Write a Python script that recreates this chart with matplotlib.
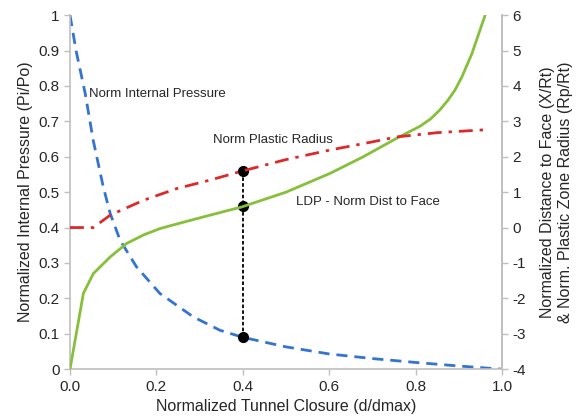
import matplotlib.pyplot as plt

plt.rcParams['font.family'] = ['Liberation Sans', 'DejaVu Sans']
plt.rcParams['axes.unicode_minus'] = False

# Norm internal pressure (left axis)
closure_p = [0.0, 0.014, 0.035, 0.054, 0.077, 0.093, 0.116, 0.154, 0.208, 0.285, 0.347,
             0.40, 0.50, 0.60, 0.70, 0.80, 0.90, 1.00]
pressure = [1.0, 0.9, 0.78, 0.645, 0.515, 0.44, 0.364, 0.289, 0.214, 0.148, 0.11,
            0.09, 0.063, 0.043, 0.03, 0.019, 0.009, 0.0]

# LDP - norm distance to face (right axis)
closure_ldp = [0.0, 0.031, 0.054, 0.093, 0.131, 0.17, 0.208, 0.247, 0.324, 0.397, 0.50,
               0.602, 0.679, 0.756, 0.81, 0.835, 0.856, 0.875, 0.891, 0.907, 0.93, 0.961]
dist_face = [-4.0, -1.86, -1.3, -0.83, -0.45, -0.21, -0.03, 0.1, 0.35, 0.58, 1.0,
             1.53, 2.0, 2.52, 2.86, 3.07, 3.32, 3.6, 3.88, 4.25, 4.9, 6.0]

# Norm plastic radius (right axis)
closure_rp = [0.0, 0.054, 0.093, 0.17, 0.247, 0.324, 0.40, 0.50, 0.602, 0.70, 0.756, 0.85, 0.972]
plastic_radius = [0.0, 0.0, 0.35, 0.77, 1.1, 1.34, 1.6, 1.92, 2.19, 2.42, 2.56, 2.68, 2.77]

# Markers at d/dmax = 0.4 (left axis)
marker_x = [0.4, 0.4, 0.4]
marker_y = [0.09, 0.46, 0.56]

BLUE = '#3473d0'
GREEN = '#86c03a'
RED = '#dc2a2a'
GRAY = '#bfbfbf'
TXT = '#262626'

fig = plt.figure(figsize=(5.77, 4.2), dpi=100)
ax = fig.add_axes([0.1213, 0.121, 0.7487, 0.843])
ax2 = ax.twinx()

ax.plot(closure_p, pressure, color=BLUE, lw=2, dashes=(4, 2.5))
ax.plot(marker_x, marker_y, color='black', lw=1.3, dashes=(2, 1.2),
        marker='o', markersize=7, zorder=5)
ax2.plot(closure_ldp, dist_face, color=GREEN, lw=2)
ax2.plot(closure_rp, plastic_radius, color=RED, lw=2, dashes=(5, 2.5, 1.2, 2.5))

ax.set_xlim(0, 1)
ax.set_ylim(0, 1)
ax2.set_ylim(-4, 6)
ax.set_xticks([0, 0.2, 0.4, 0.6, 0.8, 1.0])
ax.set_xticklabels(['0.0', '0.2', '0.4', '0.6', '0.8', '1.0'])
ax.set_yticks([i / 10 for i in range(11)])
ax.set_yticklabels(['0', '0.1', '0.2', '0.3', '0.4', '0.5', '0.6', '0.7', '0.8', '0.9', '1'])
ax2.set_yticks(range(-4, 7))

for a in (ax, ax2):
    a.spines['top'].set_visible(False)
    for s in ('left', 'right', 'bottom'):
        a.spines[s].set_color(GRAY)
        a.spines[s].set_linewidth(1.2)
    a.tick_params(colors=GRAY, labelcolor=TXT, labelsize=11, length=4, width=1)
ax2.spines['left'].set_visible(False)
ax2.spines['bottom'].set_visible(False)

ax.set_xlabel('Normalized Tunnel Closure (d/dmax)', fontsize=11.5, color=TXT)
ax.set_ylabel('Normalized Internal Pressure (Pi/Po)', fontsize=11.5, color=TXT)
ax2.set_ylabel('Normalized Distance to Face (X/Rt)\n& Norm. Plastic Zone Radius (Rp/Rt)',
               fontsize=11.5, color=TXT, linespacing=1.3, labelpad=10)

ax.text(0.045, 0.77, 'Norm Internal Pressure', fontsize=9.5, color=TXT)
ax.text(0.332, 0.64, 'Norm Plastic Radius', fontsize=9.5, color=TXT)
ax.text(0.523, 0.463, 'LDP - Norm Dist to Face', fontsize=9.5, color=TXT)

plt.savefig('out.png', dpi=100)
